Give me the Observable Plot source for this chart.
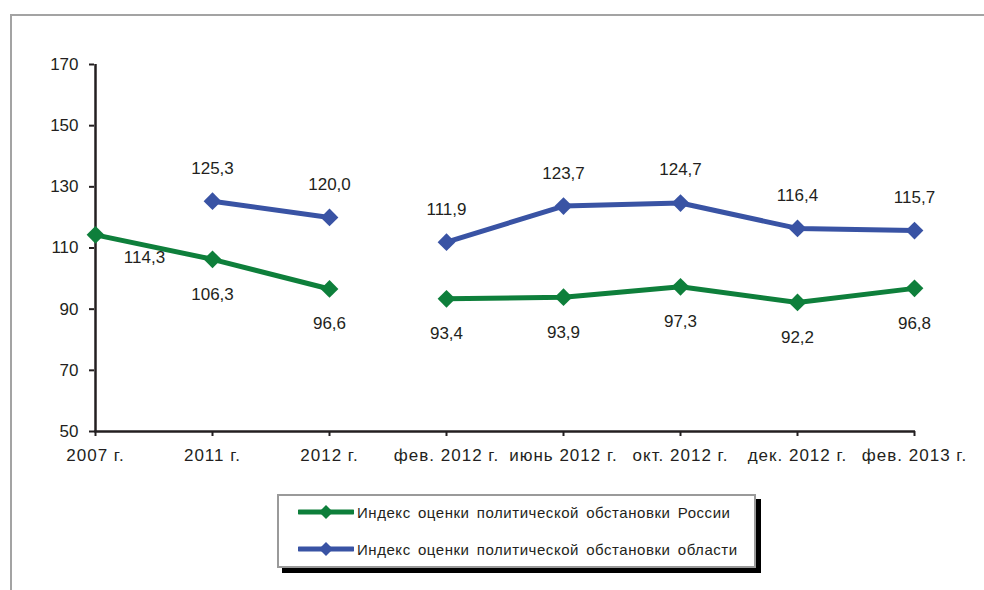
<!DOCTYPE html>
<html>
<head>
<meta charset="utf-8">
<script src="https://cdn.jsdelivr.net/npm/d3@7"></script>
<script src="https://cdn.jsdelivr.net/npm/@observablehq/plot@0.6"></script>
<style>
  html, body { margin: 0; padding: 0; background: #fff; width: 984px; height: 590px; overflow: hidden; }
  #frame { position: absolute; left: 10px; top: 14px; width: 1000px; height: 620px; border: 2px solid #a3a3a3; box-sizing: border-box; }
  #chart { position: absolute; left: 0; top: 0; }
  #legend { position: absolute; left: 277px; top: 494px; width: 479px; height: 74px; box-sizing: border-box;
            border: 2px solid #9a9a9a; background: #fff; box-shadow: 5px 5px 0 #000;
            font-family: "Liberation Sans", Arial, sans-serif; font-size: 15px; color: #231f20;
            letter-spacing: 0.55px; word-spacing: 2.5px; }
  .item { position: absolute; left: 19px; display: flex; align-items: center; height: 20px; white-space: nowrap; }
  .item svg { margin-right: 3px; }
  #chart svg g[aria-label="x-axis tick label"] text { letter-spacing: 1px; }
</style>
</head>
<body>
<div id="frame"></div>
<div id="chart"></div>
<div id="legend"></div>
<script>
const categories = ["2007 г.", "2011 г.", "2012 г.", "фев. 2012 г.", "июнь 2012 г.", "окт. 2012 г.", "дек. 2012 г.", "фев. 2013 г."];
const russiaValues = [114.3, 106.3, 96.6, 93.4, 93.9, 97.3, 92.2, 96.8];
const regionValues = [null, 125.3, 120.0, 111.9, 123.7, 124.7, 116.4, 115.7];
const seriesNames = ["Индекс оценки политической обстановки России", "Индекс оценки политической обстановки области"];
const seriesColors = ["#0e7f3b", "#3953a4"];
const yTicks = [50, 70, 90, 110, 130, 150, 170];

const ink = "#231f20";
const fmt = v => v.toFixed(1).replace(".", ",");

const rows = [];
[russiaValues, regionValues].forEach((vals, s) => {
  vals.forEach((v, i) => {
    if (v == null) return;
    rows.push({cat: categories[i], value: v, series: seriesNames[s], idx: i, grp: seriesNames[s] + (i < 3 ? "a" : "b")});
  });
});
const russiaRows = rows.filter(d => d.series === seriesNames[0]);
const regionRows = rows.filter(d => d.series === seriesNames[1]);

const chart = Plot.plot({
  width: 984,
  height: 480,
  marginLeft: 94,
  marginRight: 69,
  marginTop: 64,
  marginBottom: 49,
  style: {fontFamily: "'Liberation Sans', Arial, sans-serif", fontSize: "17px", color: ink, background: "transparent"},
  x: {type: "point", domain: categories, padding: 0, label: null},
  y: {domain: [50, 170], label: null},
  color: {domain: seriesNames, range: seriesColors},
  marks: [
    Plot.axisY({ticks: yTicks, tickSize: 5, tickPadding: 11, tickFormat: d => String(d), fontSize: 17, label: null, stroke: ink, strokeWidth: 2, fill: ink}),
    Plot.axisX({tickSize: 5, tickPadding: 12, fontSize: 17, label: null, stroke: ink, strokeWidth: 2, fill: ink}),
    Plot.ruleY([50], {stroke: ink, strokeWidth: 2.5}),
    Plot.ruleX([categories[0]], {y1: 50, y2: 170, stroke: ink, strokeWidth: 2.5}),
    Plot.line(rows, {x: "cat", y: "value", z: "grp", stroke: "series", strokeWidth: 5}),
    Plot.dot(rows, {x: "cat", y: "value", symbol: "diamond2", r: 8, fill: "series", stroke: null}),
    Plot.text(russiaRows.filter(d => d.idx === 0), {x: "cat", y: "value", text: d => fmt(d.value), dx: 49, dy: 23, fontSize: 17, fill: ink}),
    Plot.text(russiaRows.filter(d => d.idx > 0), {x: "cat", y: "value", text: d => fmt(d.value), dy: 35, fontSize: 17, fill: ink}),
    Plot.text(regionRows, {x: "cat", y: "value", text: d => fmt(d.value), dy: -33, fontSize: 17, fill: ink})
  ]
});
document.getElementById("chart").appendChild(chart);

const legend = document.getElementById("legend");
seriesNames.forEach((name, i) => {
  const item = document.createElement("div");
  item.className = "item";
  item.style.top = (6 + i * 37) + "px";
  const c = seriesColors[i];
  item.innerHTML = `<svg width="56" height="20"><line x1="1" y1="10" x2="55" y2="10" stroke="${c}" stroke-width="5" stroke-linecap="round"/><path d="M28,3 L35,10 L28,17 L21,10 Z" fill="${c}"/></svg><span>${name}</span>`;
  legend.appendChild(item);
});
</script>
</body>
</html>
